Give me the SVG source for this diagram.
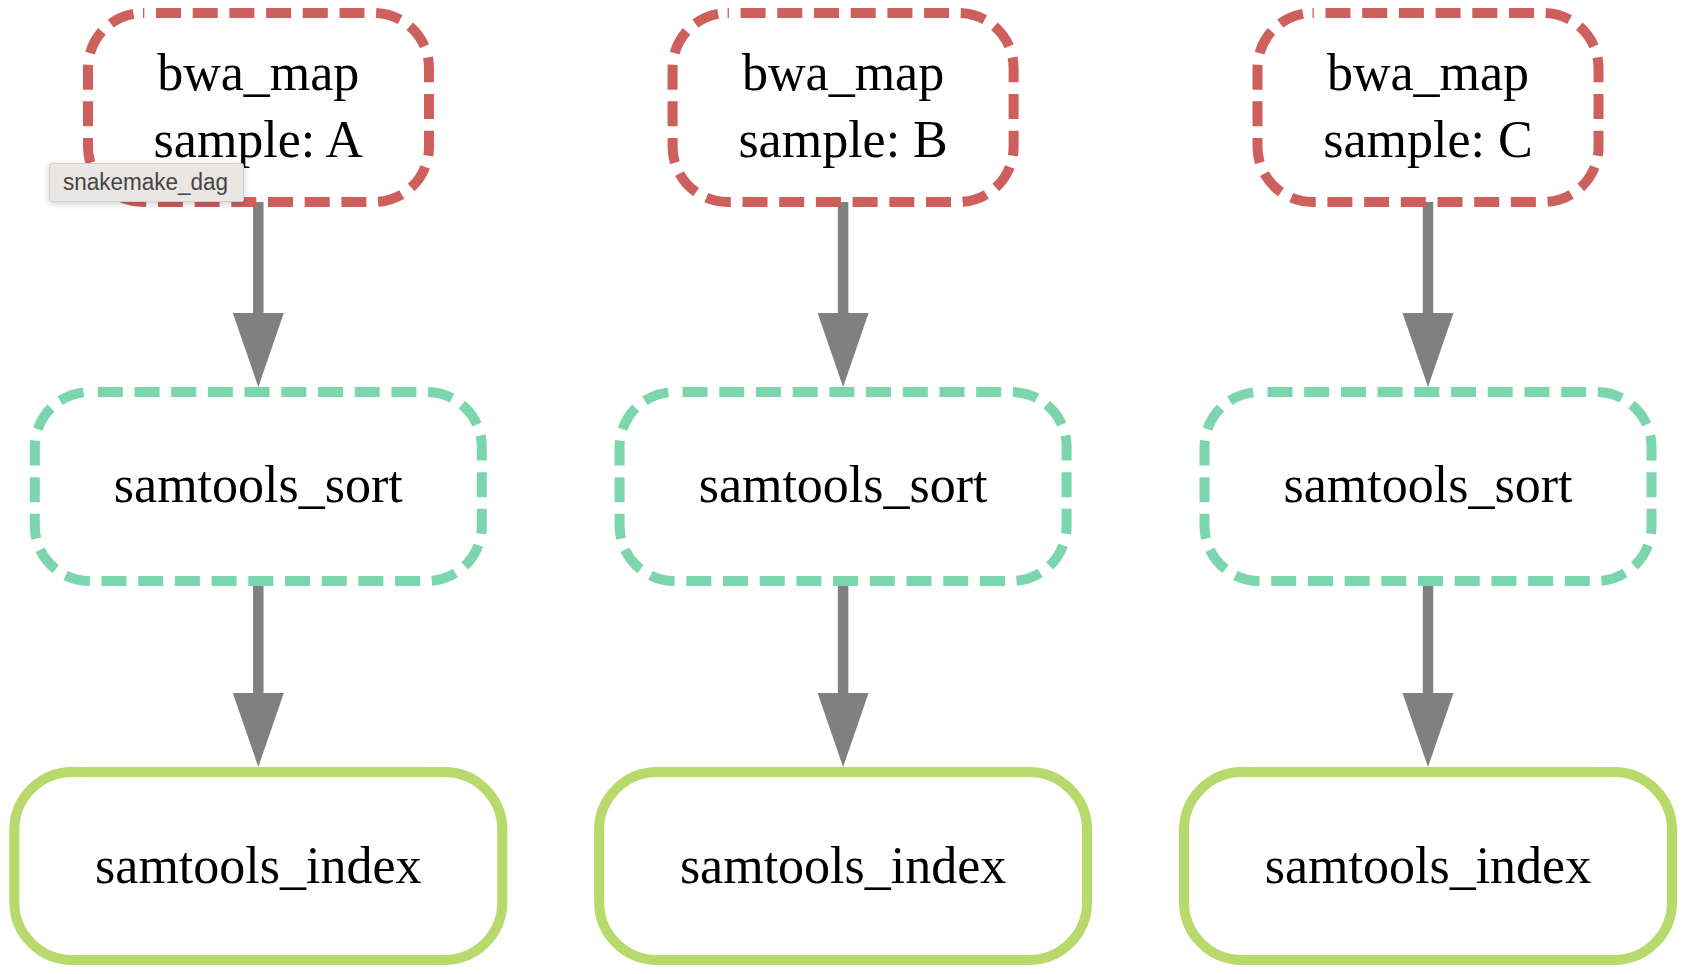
<svg xmlns="http://www.w3.org/2000/svg" width="1684" height="974" viewBox="0 0 1684 974">
  <style>
    .bg { fill: #ffffff; }
    .lbl { font-family: "Liberation Serif", "Times New Roman", serif; font-size: 52px; fill: #000000; text-anchor: middle; }
    .map { fill: #ffffff; stroke: #CD5F5C; stroke-width: 10; stroke-dasharray: 25 11.7; stroke-dashoffset: 23.7; }
    .sort { fill: #ffffff; stroke: #7BD6AE; stroke-width: 10; stroke-dasharray: 25 11.7; stroke-dashoffset: 28.7; }
    .index { fill: #ffffff; stroke: #B8D96C; stroke-width: 10; }
    .shaft { stroke: #808080; stroke-width: 10.5; fill: none; }
    .head { fill: #808080; stroke: none; }
    .tip { fill: #E9E6E3; stroke: #D2CFCC; stroke-width: 1; }
    .tiptext { font-family: "Liberation Sans", Arial, sans-serif; font-size: 23.5px; fill: #454545; }
  </style>
  <defs>
    <filter id="shadow" x="-20%" y="-50%" width="140%" height="200%">
      <feDropShadow dx="0" dy="2" stdDeviation="3" flood-color="#000000" flood-opacity="0.18"/>
    </filter>
  </defs>
  <rect class="bg" x="0" y="0" width="1684" height="974"/>

  <g id="connectors">
    <line class="shaft" x1="258.3" y1="202" x2="258.3" y2="316"/>
    <polygon class="head" points="232.8,313 283.8,313 258.3,387"/>
    <line class="shaft" x1="258.3" y1="581" x2="258.3" y2="696"/>
    <polygon class="head" points="232.8,693 283.8,693 258.3,767"/>

    <line class="shaft" x1="843.1" y1="202" x2="843.1" y2="316"/>
    <polygon class="head" points="817.6,313 868.6,313 843.1,387"/>
    <line class="shaft" x1="843.1" y1="581" x2="843.1" y2="696"/>
    <polygon class="head" points="817.6,693 868.6,693 843.1,767"/>

    <line class="shaft" x1="1428" y1="202" x2="1428" y2="316"/>
    <polygon class="head" points="1402.5,313 1453.5,313 1428,387"/>
    <line class="shaft" x1="1428" y1="581" x2="1428" y2="696"/>
    <polygon class="head" points="1402.5,693 1453.5,693 1428,767"/>
  </g>

  <g id="bwa_map_A">
    <rect class="map" x="88" y="13" width="341" height="189" rx="55" ry="55"/>
    <text class="lbl" x="258.3" y="90">bwa_map</text>
    <text class="lbl" x="258.3" y="157">sample: A</text>
  </g>
  <g id="bwa_map_B">
    <rect class="map" x="672.6" y="13" width="341" height="189" rx="55" ry="55"/>
    <text class="lbl" x="843.1" y="90">bwa_map</text>
    <text class="lbl" x="843.1" y="157">sample: B</text>
  </g>
  <g id="bwa_map_C">
    <rect class="map" x="1257.5" y="13" width="341" height="189" rx="55" ry="55"/>
    <text class="lbl" x="1428" y="90">bwa_map</text>
    <text class="lbl" x="1428" y="157">sample: C</text>
  </g>

  <g id="samtools_sort_A">
    <rect class="sort" x="34.8" y="392" width="447" height="189" rx="55" ry="55"/>
    <text class="lbl" x="258.3" y="502">samtools_sort</text>
  </g>
  <g id="samtools_sort_B">
    <rect class="sort" x="619.6" y="392" width="447" height="189" rx="55" ry="55"/>
    <text class="lbl" x="843.1" y="502">samtools_sort</text>
  </g>
  <g id="samtools_sort_C">
    <rect class="sort" x="1204.5" y="392" width="447" height="189" rx="55" ry="55"/>
    <text class="lbl" x="1428" y="502">samtools_sort</text>
  </g>

  <g id="samtools_index_A">
    <rect class="index" x="14.3" y="772" width="488" height="188" rx="58" ry="58"/>
    <text class="lbl" x="258.3" y="883">samtools_index</text>
  </g>
  <g id="samtools_index_B">
    <rect class="index" x="599.1" y="772" width="488" height="188" rx="58" ry="58"/>
    <text class="lbl" x="843.1" y="883">samtools_index</text>
  </g>
  <g id="samtools_index_C">
    <rect class="index" x="1184" y="772" width="488" height="188" rx="58" ry="58"/>
    <text class="lbl" x="1428" y="883">samtools_index</text>
  </g>

  <g id="tooltip">
    <rect class="tip" x="49.5" y="163.5" width="194" height="38" rx="2" ry="2" filter="url(#shadow)"/>
    <text class="tiptext" x="63" y="189.5" textLength="165" lengthAdjust="spacingAndGlyphs">snakemake_dag</text>
  </g>
</svg>
